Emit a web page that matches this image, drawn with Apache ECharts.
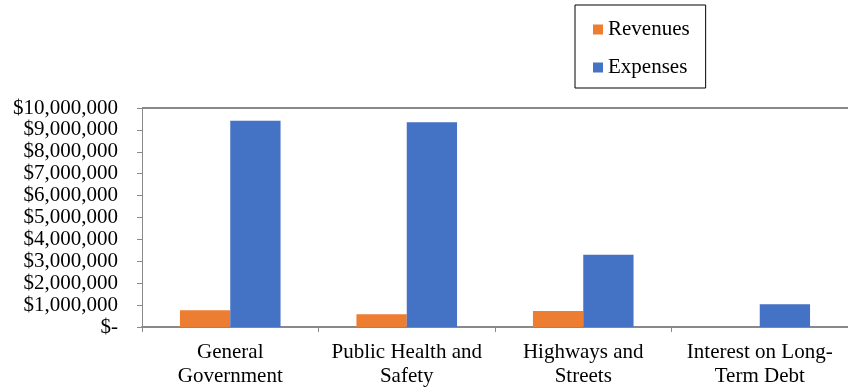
<!DOCTYPE html>
<html>
<head>
<meta charset="utf-8">
<script src="https://cdn.jsdelivr.net/npm/echarts@6/dist/echarts.min.js"></script>
<style>
html,body{margin:0;padding:0;background:#fff;}
#chart{width:848px;height:390px;}
</style>
</head>
<body>
<div id="chart"></div>
<script>
var categories = ["General\nGovernment", "Public Health and\nSafety", "Highways and\nStreets", "Interest on Long-\nTerm Debt"];
var revenues = [770000, 580000, 730000, 0];
var expenses = [9420000, 9350000, 3300000, 1040000];
var seriesNames = ["Revenues", "Expenses"];
var yMin = 0, yMax = 10000000, yStep = 1000000;

var chart = echarts.init(document.getElementById('chart'));
var font = "'Liberation Serif', 'Times New Roman', serif";
chart.setOption({
  animation: false,
  color: ['#ED7D31', '#4472C4'],
  textStyle: { fontFamily: font },
  legend: {
    data: seriesNames,
    orient: 'vertical',
    left: 575,
    top: 5,
    padding: [14, 16, 10, 18],
    itemGap: 17,
    itemWidth: 10,
    itemHeight: 10,
    icon: 'rect',
    borderColor: '#000',
    borderWidth: 1,
    textStyle: { fontFamily: font, fontSize: 21, color: '#000' }
  },
  grid: { left: 142, right: 0, top: 108, bottom: 63, containLabel: false },
  xAxis: {
    type: 'category',
    data: categories,
    axisLine: { lineStyle: { color: '#898989', width: 2 } },
    axisTick: { show: true, length: 5, lineStyle: { color: '#898989', width: 1 } },
    axisLabel: { fontFamily: font, fontSize: 21, color: '#000', lineHeight: 24, margin: 13, interval: 0 }
  },
  yAxis: {
    type: 'value',
    min: yMin, max: yMax, interval: yStep,
    splitLine: { show: false },
    axisLine: { show: true, lineStyle: { color: '#898989', width: 1 } },
    axisTick: { show: true, length: 5, lineStyle: { color: '#898989' } },
    axisLabel: {
      fontFamily: font, fontSize: 21, color: '#000', margin: 24,
      formatter: function (v) { return v === 0 ? '$-' : '$' + v.toLocaleString('en-US'); }
    }
  },
  series: [
    { name: seriesNames[0], type: 'bar', data: revenues, barGap: '0%', barCategoryGap: '43%' },
    { name: seriesNames[1], type: 'bar', data: expenses, barGap: '0%', barCategoryGap: '43%',
      markLine: { silent: true, symbol: 'none', label: { show: false },
        lineStyle: { color: '#898989', type: 'solid', width: 2 },
        data: [{ yAxis: yMax }] } }
  ]
});
</script>
</body>
</html>
